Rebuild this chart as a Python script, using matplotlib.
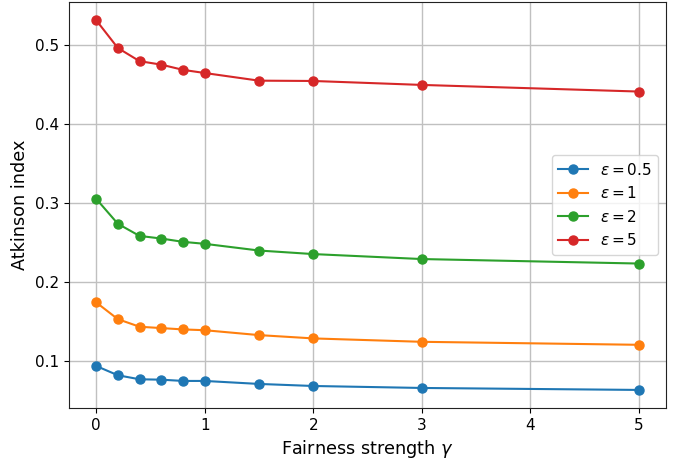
import numpy as np
import matplotlib
matplotlib.use("Agg")
import matplotlib.pyplot as plt

# Fairness strength values (x axis)
gamma = [0, 0.2, 0.4, 0.6, 0.8, 1, 1.5, 2, 3, 5]

# Atkinson index for each epsilon
atk_eps_05 = [0.0937, 0.0819, 0.0768, 0.0763, 0.0747, 0.0747, 0.0709, 0.0683, 0.0658, 0.0633]
atk_eps_1 = [0.1743, 0.1530, 0.1434, 0.1417, 0.1400, 0.1390, 0.1328, 0.1286, 0.1243, 0.1205]
atk_eps_2 = [0.3056, 0.2739, 0.2585, 0.2552, 0.2510, 0.2485, 0.2400, 0.2355, 0.2292, 0.2235]
atk_eps_5 = [0.5320, 0.4967, 0.4800, 0.4756, 0.4690, 0.4650, 0.4553, 0.4549, 0.4499, 0.4415]

series = [
    (atk_eps_05, r"$\varepsilon = 0.5$", "#1f77b4"),
    (atk_eps_1, r"$\varepsilon = 1$", "#ff7f0e"),
    (atk_eps_2, r"$\varepsilon = 2$", "#2ca02c"),
    (atk_eps_5, r"$\varepsilon = 5$", "#d62728"),
]

fig = plt.figure(figsize=(6.89, 4.62), dpi=100)
ax = fig.add_axes([69 / 689, 54 / 462, 597 / 689, 406 / 462])

for values, label, color in series:
    ax.plot(gamma, values, marker="o", markersize=6.5, linewidth=1.5, color=color, label=label)

ax.set_xlim(-0.25, 5.25)
ax.set_ylim(0.0404, 0.555)
ax.set_xticks([0, 1, 2, 3, 4, 5])
ax.set_yticks([0.1, 0.2, 0.3, 0.4, 0.5])
ax.tick_params(labelsize=11)
ax.grid(True, color="#c0c0c0", linewidth=1.0)
for spine in ax.spines.values():
    spine.set_color("#222222")

ax.set_xlabel(r"Fairness strength $\gamma$", fontsize=12.7)
ax.set_ylabel("Atkinson index", fontsize=12.7)
ax.legend(loc="center right", fontsize=11)

fig.savefig("out.png", dpi=100)
